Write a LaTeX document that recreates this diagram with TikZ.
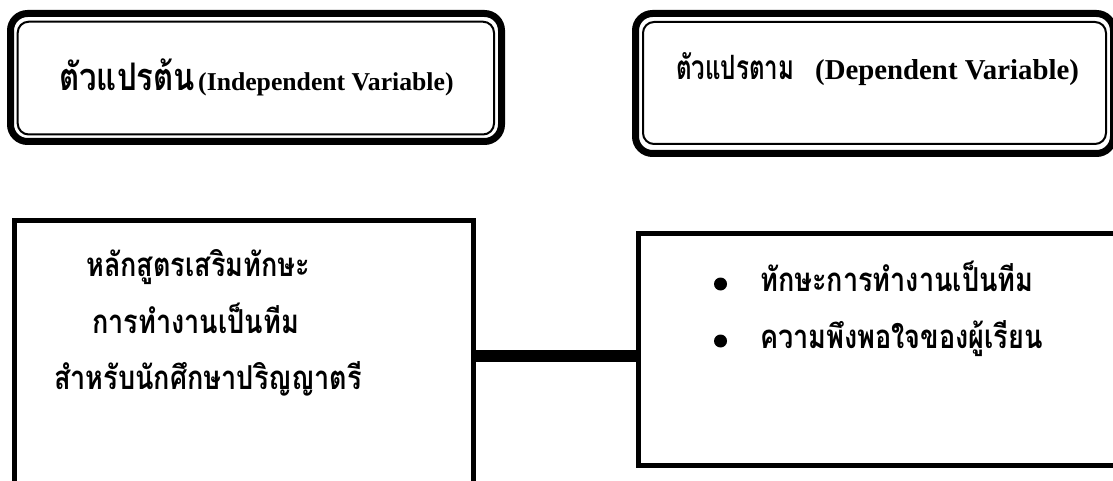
\documentclass[tikz,border=0pt]{standalone}
\usepackage{fontspec}
\setmainfont{Liberation Serif}
\newfontfamily\thaifont[Script=Thai,FakeStretch=0.82]{Loma}
\newfontfamily\thainarrow[Script=Thai,FakeStretch=0.72]{Loma}
\begin{document}
\begin{tikzpicture}[x=1pt,y=-1pt,
  innerline/.style={draw, line width=2pt, rounded corners=11pt, inner sep=0pt, outer sep=0pt},
  outerband/.style={line width=7pt, rounded corners=17pt},
  plainbox/.style={draw, line width=5pt, inner sep=0pt, outer sep=0pt},
  link/.style={line width=12pt},
  lbl/.style={inner sep=0pt, anchor=base west},
  thbig/.style={font=\thaifont\bfseries\fontsize{38}{44}\selectfont},
  thsmall/.style={font=\thainarrow\bfseries\fontsize{33.5}{40}\selectfont},
  thtxt/.style={font=\thaifont\bfseries\fontsize{33}{40}\selectfont},
  enA/.style={font=\bfseries\fontsize{25.7}{30}\selectfont},
  enB/.style={font=\bfseries\fontsize{28.8}{34}\selectfont},
  dot/.style={circle, fill=black, inner sep=0pt, minimum size=13pt}
]
\useasboundingbox (0,0) rectangle (1113,481);
\clip (0,0) rectangle (1113,481);
\fill[white] (0,0) rectangle (1113,481);

% top-left double-bordered box
\node[innerline, minimum width=476.3pt, minimum height=112.8pt] (ivin) at (255.85,78.1) {};
\draw[outerband] ([shift={(-7.2,-8.2)}]ivin.north west) rectangle ([shift={(7.5,7)}]ivin.south east);
\node[lbl, thbig] (ivth) at (59,91) {ตัวแปรต้น};
\node[lbl, enA] (iven) at (198,91) {(Independent Variable)};

% top-right double-bordered box
\node[innerline, minimum width=463pt, minimum height=122pt] (dvin) at (874.5,83) {};
\draw[outerband] ([shift={(-7.5,-8.5)}]dvin.north west) rectangle ([shift={(7.5,9.5)}]dvin.south east);
\node[lbl, thsmall] (dvth) at (676,80) {ตัวแปรตาม};
\node[lbl, enB] (dven) at (815,80) {(Dependent Variable)};

% bottom boxes
\node[plainbox, minimum width=459pt, minimum height=279.5pt] (lbox) at (243.5,360.25) {};
\node[plainbox, minimum width=486.5pt, minimum height=231.5pt] (rbox) at (881.75,349.25) {};
\coordinate (cy) at (0,355.5);
\draw[link] (lbox.east |- cy) -- (rbox.west |- cy);

% left box text
\node[lbl, thtxt] (l1) at (86,276) {หลักสูตรเสริมทักษะ};
\node[lbl, thtxt] (l2) at (92,333) {การทำงานเป็นทีม};
\node[lbl, thtxt] (l3) at (54,389) {สำหรับนักศึกษาปริญญาตรี};

% right box text
\node[dot] (b1) at (720.5,284) {};
\node[dot] (b2) at (720.5,341) {};
\node[lbl, thtxt] (r1) at (760,291) {ทักษะการทำงานเป็นทีม};
\node[lbl, thtxt] (r2) at (760,348) {ความพึงพอใจของผู้เรียน};
\end{tikzpicture}
\end{document}
